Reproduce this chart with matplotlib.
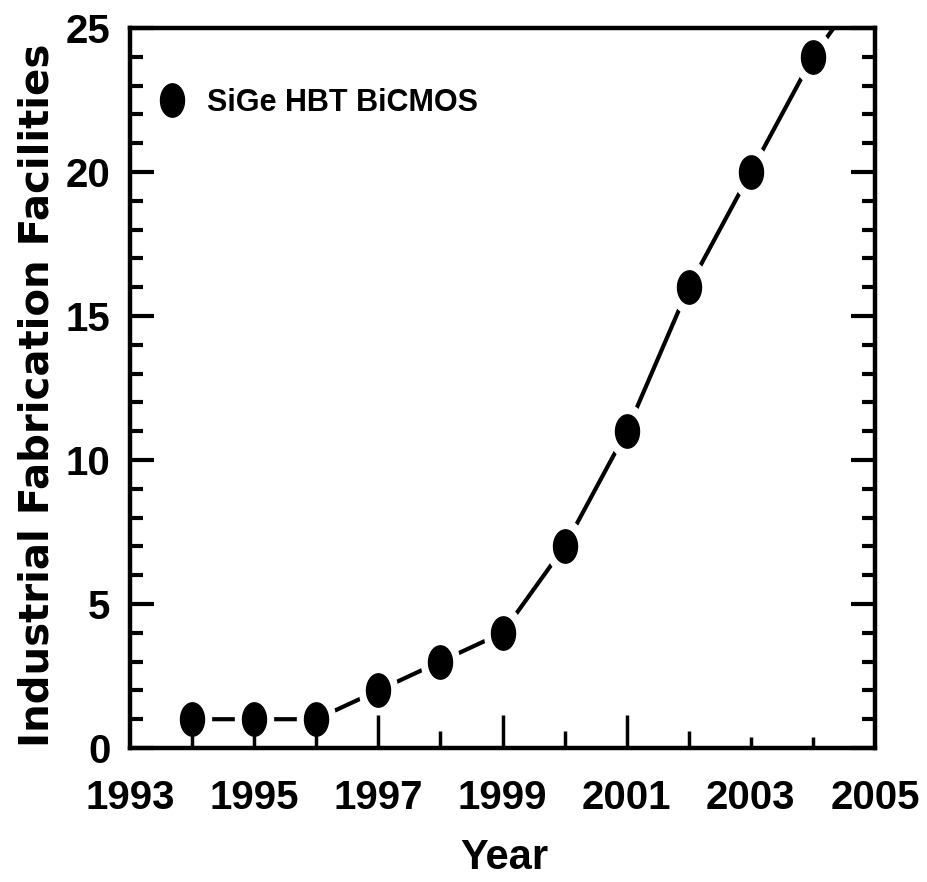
import matplotlib
matplotlib.use("Agg")
import matplotlib.pyplot as plt
from matplotlib.path import Path
from matplotlib.lines import Line2D
import numpy as np

# data
years = [1994, 1995, 1996, 1997, 1998, 1999, 2000, 2001, 2002, 2003, 2004]
fabs = [1, 1, 1, 2, 3, 4, 7, 11, 16, 20, 24]
# trend line keeps going past the last point and gets clipped by the frame
trend_years = years + [2005]
trend_fabs = fabs + [27]
year_ticks = list(range(1993, 2006))
label_years = [1993, 1995, 1997, 1999, 2001, 2003, 2005]

narrow = ["Liberation Sans Narrow", "Liberation Sans", "DejaVu Sans"]
wide = ["Liberation Sans", "DejaVu Sans"]

# tall ellipse marker (the dots are squashed in the original)
t = np.linspace(0, 2 * np.pi, 60)
oval = Path(np.column_stack([0.72 * np.cos(t), np.sin(t)]), closed=True)

fig = plt.figure(figsize=(9.28, 8.82), dpi=100)
ax = fig.add_axes([130 / 928, 1 - 748 / 882, 745 / 928, 720 / 882])

# solid line with a white halo round each dot -> gaps near markers
ax.plot(trend_years, trend_fabs, color="black", lw=3.0, zorder=1,
        solid_capstyle="butt")
ax.plot(years, fabs, ls="none", marker=oval, ms=38, mfc="white",
        mec="white", zorder=1.5)
ax.plot(years, fabs, ls="none", marker=oval, ms=24, mfc="black",
        mec="black", zorder=3)

ax.set_xlim(1993, 2005)
ax.set_ylim(0, 25)
ax.set_axisbelow(False)

for s in ax.spines.values():
    s.set_linewidth(3.2)

ax.set_xticks(year_ticks)
ax.set_xticklabels([str(y) if y in label_years else "" for y in year_ticks])
ax.set_yticks(range(0, 26, 5))
ax.set_yticks(range(0, 26), minor=True)

ax.tick_params(axis="y", which="major", direction="in", length=17, width=3,
               left=True, right=True, pad=14, labelsize=29)
ax.tick_params(axis="y", which="minor", direction="in", length=9.5, width=3,
               left=True, right=True)
ax.tick_params(axis="x", which="major", direction="in", length=12, width=2.5,
               top=False, pad=22, labelsize=29)

# bottom ticks are uneven in the source image
for tk, y in zip(ax.xaxis.get_major_ticks(), year_ticks):
    if y in (2003, 2004):
        tk.tick1line.set_markersize(8)
    elif y % 2 == 1 and y not in (1993, 2005):
        tk.tick1line.set_markersize(24)
    elif y in (1993, 2005):
        tk.tick1line.set_markersize(0)

for lab in ax.get_xticklabels() + ax.get_yticklabels():
    lab.set_family(narrow)
    lab.set_fontweight("bold")

ax.set_xlabel("Year", family=narrow, fontweight="bold", fontsize=30)
ax.xaxis.set_label_coords(0.503, -0.125)
ax.set_ylabel("Industrial Fabrication Facilities", family="DejaVu Sans",
              fontweight="bold", fontsize=29)
ax.yaxis.set_label_coords(-0.097, 0.49)

handle = Line2D([], [], ls="none", marker=oval, ms=24, color="black")
ax.legend([handle], ["SiGe HBT BiCMOS"], loc="upper left", frameon=False,
          prop={"family": wide, "weight": "bold", "size": 22},
          bbox_to_anchor=(0.003, 0.947), handlelength=1.2, handletextpad=0.55,
          borderaxespad=0.3)

fig.savefig("out.png", dpi=100)
